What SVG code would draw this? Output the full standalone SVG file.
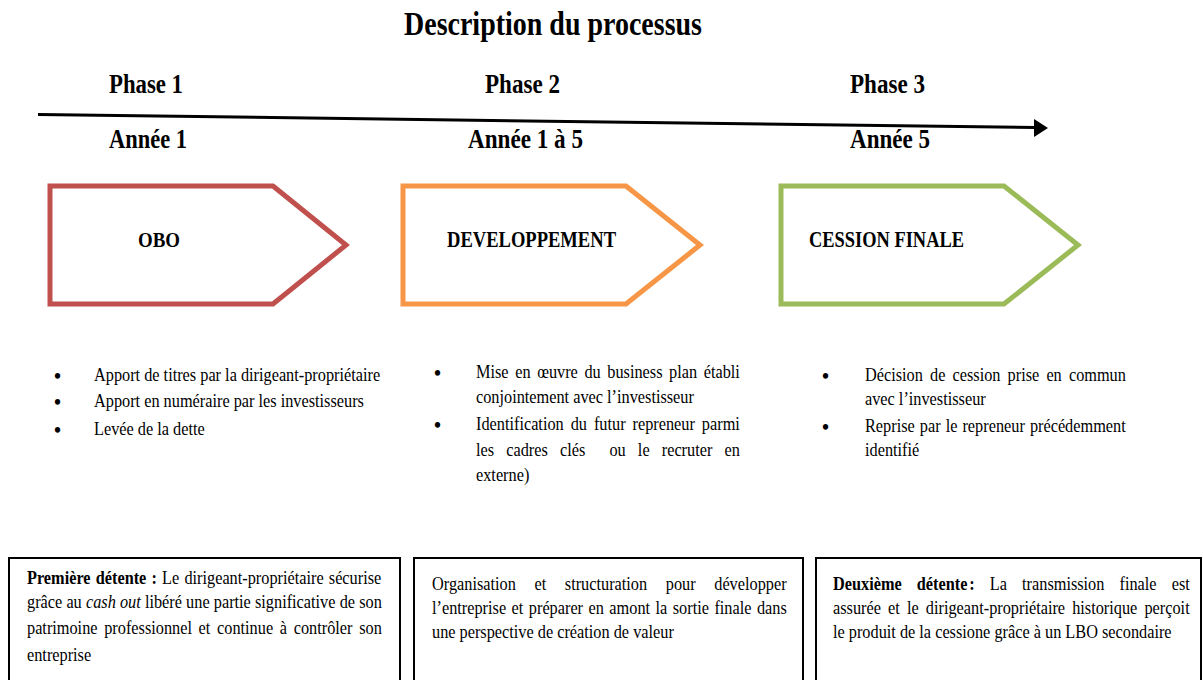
<svg xmlns="http://www.w3.org/2000/svg" width="1203" height="680" viewBox="0 0 1203 680">
<style>
.h{font-family:"Liberation Serif","Times New Roman",serif;font-weight:bold;fill:#000}
.b{font-family:"Liberation Serif","Times New Roman",serif;font-size:18px;fill:#000;transform-box:fill-box;transform-origin:0 50%;transform:scaleX(0.905)}
.dot{font-family:"Liberation Serif","Times New Roman",serif;font-size:20px;font-weight:bold;fill:#000}
.bb{font-weight:bold}
.it{font-style:italic}
.shape{fill:#fff;stroke-width:5;stroke-linejoin:miter}
.box{fill:#fff;stroke:#000;stroke-width:2}
</style>
<defs>
<clipPath id="c1"><rect x="0" y="350" width="381" height="100"/></clipPath>
</defs>
<rect width="1203" height="680" fill="#fff"/>

<g id="title">
<text class="h" x="404" y="35" font-size="33" textLength="298" lengthAdjust="spacingAndGlyphs">Description du processus</text>
</g>

<g id="connectors">
<line x1="38" y1="114.5" x2="1035" y2="127.5" stroke="#000" stroke-width="3"/>
<polygon points="1048,128 1034,119 1034,137" fill="#000"/>
</g>

<g id="phase1">
<text class="h" x="109" y="93" font-size="28" textLength="74" lengthAdjust="spacingAndGlyphs">Phase 1</text>
<text class="h" x="109" y="148" font-size="28" textLength="78" lengthAdjust="spacingAndGlyphs">Année 1</text>
</g>
<g id="phase2">
<text class="h" x="485" y="93" font-size="28" textLength="75" lengthAdjust="spacingAndGlyphs">Phase 2</text>
<text class="h" x="468" y="148" font-size="28" textLength="115" lengthAdjust="spacingAndGlyphs">Année 1 à 5</text>
</g>
<g id="phase3">
<text class="h" x="850" y="93" font-size="28" textLength="75" lengthAdjust="spacingAndGlyphs">Phase 3</text>
<text class="h" x="850" y="148" font-size="28" textLength="80" lengthAdjust="spacingAndGlyphs">Année 5</text>
</g>

<g id="obo">
<path class="shape" stroke="#C0504D" d="M50,186 L273,186 L346,245 L273,304 L50,304 Z"/>
<text class="h" x="138" y="247" font-size="22" textLength="42" lengthAdjust="spacingAndGlyphs">OBO</text>
</g>
<g id="developpement">
<path class="shape" stroke="#F79646" d="M403,186 L626,186 L700,245 L626,304 L403,304 Z"/>
<text class="h" x="447" y="247" font-size="24" textLength="169" lengthAdjust="spacingAndGlyphs">DEVELOPPEMENT</text>
</g>
<g id="cession">
<path class="shape" stroke="#9BBB59" d="M781,186 L1004,186 L1078,245 L1004,304 L781,304 Z"/>
<text class="h" x="809" y="247" font-size="24" textLength="155" lengthAdjust="spacingAndGlyphs">CESSION FINALE</text>
</g>

<g id="list1">
<text class="dot" x="54" y="383">•</text>
<text class="dot" x="54" y="409">•</text>
<text class="dot" x="54" y="437">•</text>
<g clip-path="url(#c1)">
<text class="b" x="94" y="381.5">Apport de titres par la dirigeant-propriétaire</text>
</g>
<text class="b" x="94" y="407.5">Apport en numéraire par les investisseurs</text>
<text class="b" x="94" y="435.5">Levée de la dette</text>
</g>

<g id="list2">
<text class="dot" x="434" y="380">•</text>
<text class="dot" x="434" y="432">•</text>
<text class="b" x="476" y="378.5" word-spacing="2.8">Mise en œuvre du business plan établi</text>
<text class="b" x="476" y="403.5">conjointement avec l’investisseur</text>
<text class="b" x="476" y="430.5" word-spacing="3.2">Identification du futur repreneur parmi</text>
<text class="b" x="476" y="456.5" word-spacing="8.9" xml:space="preserve">les cadres clés  ou le recruter en</text>
<text class="b" x="476" y="481.5">externe)</text>
</g>

<g id="list3">
<text class="dot" x="822" y="383">•</text>
<text class="dot" x="822" y="434">•</text>
<text class="b" x="865" y="381.5" word-spacing="3.4">Décision de cession prise en commun</text>
<text class="b" x="865" y="405.5">avec l’investisseur</text>
<text class="b" x="865" y="432.5" word-spacing="1.1">Reprise par le repreneur précédemment</text>
<text class="b" x="865" y="456.5">identifié</text>
</g>

<g id="box1">
<rect class="box" x="9" y="558" width="391" height="140"/>
<text class="b" x="27" y="584.5" word-spacing="1.2"><tspan class="bb">Première détente :</tspan> Le dirigeant-propriétaire sécurise</text>
<text class="b" x="27" y="608.5" word-spacing="0.1">grâce au <tspan class="it">cash out</tspan> libéré une partie significative de son</text>
<text class="b" x="27" y="634.5" word-spacing="2.9">patrimoine professionnel et continue à contrôler son</text>
<text class="b" x="27" y="661.5">entreprise</text>
</g>

<g id="box2">
<rect class="box" x="414" y="558" width="389" height="140"/>
<text class="b" x="432" y="590.5" word-spacing="16.1">Organisation et structuration pour développer</text>
<text class="b" x="432" y="614.5" word-spacing="1.55">l’entreprise et préparer en amont la sortie finale dans</text>
<text class="b" x="432" y="638.5">une perspective de création de valeur</text>
</g>

<g id="box3">
<rect class="box" x="816" y="558" width="385" height="140"/>
<text class="b" x="833" y="590.5" word-spacing="12.2"><tspan class="bb">Deuxième détente<tspan dx="2">:</tspan></tspan> La transmission finale est</text>
<text class="b" x="833" y="614.5" word-spacing="3.4">assurée et le dirigeant-propriétaire historique perçoit</text>
<text class="b" x="833" y="638.5">le produit de la cessione grâce à un LBO secondaire</text>
</g>
</svg>
